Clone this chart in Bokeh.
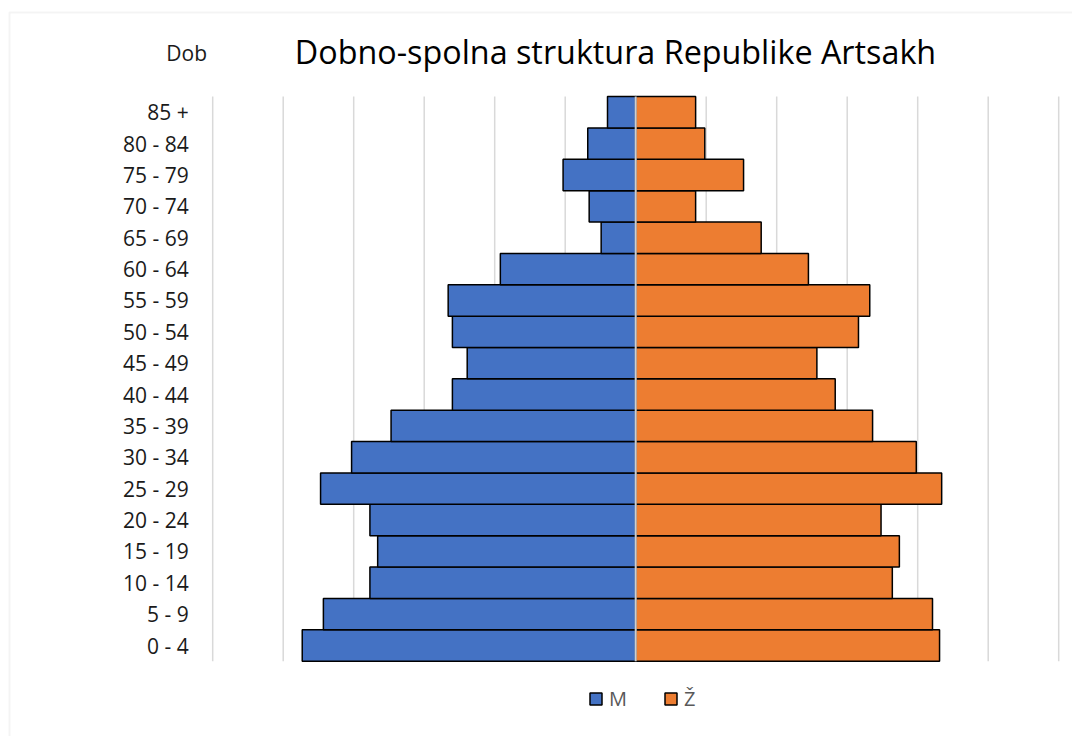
from bokeh.plotting import figure
from bokeh.models import Range1d, Legend, LegendItem, Label, BoxAnnotation
from bokeh.core.properties import value
from bokeh.embed import file_html
from bokeh.resources import INLINE

ages = ["0 - 4", "5 - 9", "10 - 14", "15 - 19", "20 - 24", "25 - 29", "30 - 34",
        "35 - 39", "40 - 44", "45 - 49", "50 - 54", "55 - 59", "60 - 64",
        "65 - 69", "70 - 74", "75 - 79", "80 - 84", "85 +"]
male = [4.73, 4.43, 3.77, 3.66, 3.77, 4.47, 4.03, 3.47, 2.60, 2.39, 2.60, 2.66,
        1.92, 0.49, 0.66, 1.03, 0.68, 0.40]
female = [4.31, 4.21, 3.64, 3.74, 3.48, 4.34, 3.98, 3.36, 2.83, 2.57, 3.16, 3.32,
          2.45, 1.78, 0.85, 1.53, 0.98, 0.85]
grid_ticks = [-6, -5, -4, -3, -2, -1, 0, 1, 2, 3, 4, 5, 6]
title_text = "Dobno-spolna struktura Republike Artsakh"
axis_title = "Dob"
series_names = ["M", "Ž"]

FONT = "Open Sans"

# ---- layout geometry (pixels) ----
W, H = 1072, 736
PX_X = 70.5          # pixels per x unit
ZERO_X = 635.2       # page x of value 0
PX_Y = 31.37         # pixels per age band
ZERO_Y = 660.7       # page y of bottom of lowest band

def xd(px):
    return (px - ZERO_X) / PX_X

def yd(py):
    return (ZERO_Y - py) / PX_Y

p = figure(width=W, height=H, output_backend="svg", toolbar_location=None,
           x_range=Range1d(xd(0), xd(W)), y_range=Range1d(yd(H), yd(0)),
           min_border=0, min_border_left=0, min_border_right=0,
           min_border_top=0, min_border_bottom=0)
p.xaxis.visible = False
p.yaxis.visible = False
p.xgrid.visible = False
p.ygrid.visible = False
p.outline_line_color = None
p.background_fill_color = "white"
p.border_fill_color = "white"

n = len(ages)
centers = [i + 0.5 for i in range(n)]
neg_male = [-v for v in male]
zeros = [0] * n
gmin, gmax = min(grid_ticks), max(grid_ticks)

# chart border (top and left edges visible)
p.add_layout(BoxAnnotation(left=xd(9), top=yd(12), right=xd(W + 20), bottom=yd(H + 20),
                           fill_alpha=0, line_color="#d9d9d9", line_width=2))

# vertical grid lines over the age bands
p.segment(x0=grid_ticks, y0=[0] * len(grid_ticks), x1=grid_ticks,
          y1=[n] * len(grid_ticks), line_color="#d9d9d9", line_width=1.5)

rm = p.hbar(y=centers, left=neg_male, right=zeros, height=1.0,
            fill_color="#4472C4", line_color="#000000", line_width=1.5)
rf = p.hbar(y=centers, left=zeros, right=female, height=1.0,
            fill_color="#ED7D31", line_color="#000000", line_width=1.5)

# vertical axis line at zero drawn over the bars
p.segment(x0=[0], y0=[0], x1=[0], y1=[n], line_color="#cfcfcf", line_width=2)

# age category labels
p.text(x=[gmin] * n, y=centers, text=ages, x_offset=-24,
       text_align="right", text_baseline="middle",
       text_font=value(FONT), text_font_size="21px", text_color="#1a1a1a")

p.add_layout(Label(x=gmin, y=n, x_offset=-26, y_offset=44, text=axis_title,
                   text_align="center", text_baseline="middle",
                   text_font=FONT, text_font_size="21px", text_color="#1a1a1a"))

p.add_layout(Label(x=xd(615), y=yd(50), text=title_text,
                   text_align="center", text_baseline="middle",
                   text_font=FONT, text_font_size="32.3px", text_color="#000000"))

legend = Legend(items=[LegendItem(label=series_names[0], renderers=[rm]),
                       LegendItem(label=series_names[1], renderers=[rf])],
                orientation="horizontal", location=(588, H - 712),
                glyph_width=15, glyph_height=15, label_height=20,
                label_text_font=FONT, label_text_font_size="20px",
                label_text_color="#595959", label_standoff=6, spacing=34,
                padding=0, margin=0, border_line_color=None,
                background_fill_alpha=0)
p.add_layout(legend)

open("out.html", "w").write(file_html(p, INLINE))
